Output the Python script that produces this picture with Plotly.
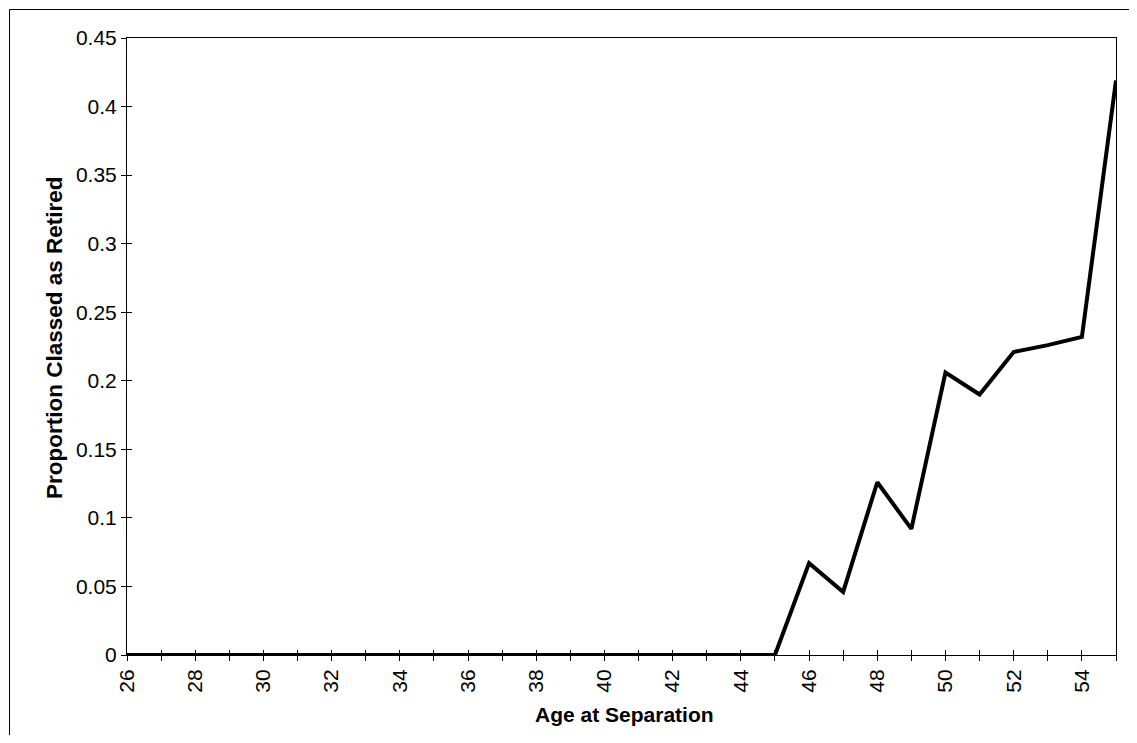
import plotly.graph_objects as go

ages = list(range(26, 56))
proportion = [0.0] * 20 + [0.067, 0.046, 0.126, 0.092, 0.206, 0.190, 0.221, 0.226, 0.232, 0.419]

x_ticks = ages
x_ticktext = [str(a) if a % 2 == 0 else "" for a in ages]
y_ticks = [0, 0.05, 0.1, 0.15, 0.2, 0.25, 0.3, 0.35, 0.4, 0.45]
y_ticktext = ["0", "0.05", "0.1", "0.15", "0.2", "0.25", "0.3", "0.35", "0.4", "0.45"]

FONT = "Arial, Liberation Sans, sans-serif"
OFF = 8  # page body margin in the browser
W, H = 1137 - 2 * OFF, 743 - 2 * OFF  # keep page inside the window (no scrollbars)
PX0, PX1, PY0, PY1 = 127, 1116, 38, 655  # plot area in screen px
L, T = PX0 - OFF, PY0 - OFF
R = OFF + W - PX1
B = OFF + H - PY1
pw, ph = W - L - R, H - T - B


def px_to_paper_x(px):
    return (px - PX0) / pw


def px_to_paper_y(py):
    return (PY1 - py) / ph


fig = go.Figure()
fig.add_trace(go.Scatter(x=ages, y=proportion, mode="lines",
                         line=dict(color="black", width=4), showlegend=False,
                         cliponaxis=False))
# invisible trace on overlay axes so inside ticks are drawn (crossing tick marks)
fig.add_trace(go.Scatter(x=[ages[0]], y=[0], xaxis="x2", yaxis="y2", mode="markers",
                         marker=dict(opacity=0), showlegend=False, hoverinfo="skip"))

axis_common = dict(showgrid=False, zeroline=False, linecolor="black", linewidth=1,
                   tickcolor="black", tickwidth=1, ticklen=5)

fig.update_layout(
    width=W, height=H,
    margin=dict(l=L, r=R, t=T, b=B, autoexpand=False),
    paper_bgcolor="white", plot_bgcolor="white",
    font=dict(family=FONT, size=21, color="black"),
    xaxis=dict(range=[26, 55], tickmode="array", tickvals=x_ticks, ticktext=x_ticktext,
               tickangle=-90, ticks="outside", mirror=True, showline=True,
               automargin=False, **axis_common),
    yaxis=dict(range=[0, 0.45], tickmode="array", tickvals=y_ticks, ticktext=y_ticktext,
               ticks="outside", mirror=True, showline=True, automargin=False,
               **axis_common),
    xaxis2=dict(range=[26, 55], overlaying="x", tickmode="array", tickvals=x_ticks,
                showticklabels=False, ticks="inside", showline=False,
                showgrid=False, zeroline=False, tickcolor="black", tickwidth=1, ticklen=5),
    yaxis2=dict(range=[0, 0.45], overlaying="y", tickmode="array", tickvals=y_ticks,
                showticklabels=False, ticks="inside", showline=False,
                showgrid=False, zeroline=False, tickcolor="black", tickwidth=1, ticklen=5),
)

fig.add_annotation(text="<b>Age at Separation</b>", xref="paper", yref="paper",
                   x=px_to_paper_x(624), y=px_to_paper_y(714), xanchor="center",
                   yanchor="middle", showarrow=False, font=dict(size=21, family=FONT))
fig.add_annotation(text="<b>Proportion Classed as Retired</b>", xref="paper", yref="paper",
                   x=px_to_paper_x(54), y=px_to_paper_y(338), xanchor="center",
                   yanchor="middle", textangle=-90, showarrow=False,
                   font=dict(size=22.5, family=FONT))

# outer chart-area border: only the top and left edges are inside the picture
bx, by = px_to_paper_x(OFF + 1.5), px_to_paper_y(OFF + 1.5)
fig.add_shape(type="line", xref="paper", yref="paper", x0=bx, x1=px_to_paper_x(OFF + W),
              y0=by, y1=by, line=dict(color="black", width=1), layer="below")
fig.add_shape(type="line", xref="paper", yref="paper", x0=bx, x1=bx,
              y0=by, y1=px_to_paper_y(OFF + H), line=dict(color="black", width=1),
              layer="below")

fig.write_html("out.html")
